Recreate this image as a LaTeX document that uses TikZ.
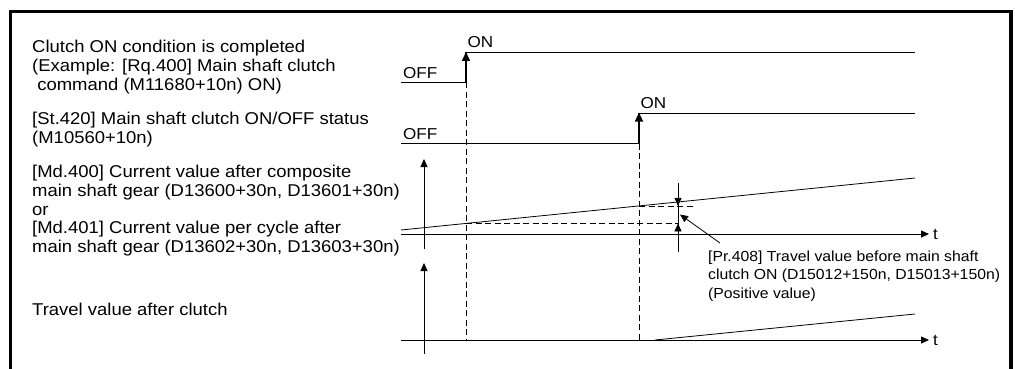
\documentclass[tikz,border=0pt]{standalone}
\usepackage{fontspec}
\setmainfont{Liberation Sans}[FakeStretch=1.08]
\usetikzlibrary{arrows.meta}
\begin{document}
\begin{tikzpicture}[x=1pt,y=-1pt,
  lbl/.style={anchor=base west, inner sep=0pt, font=\fontsize{17.1}{18.8}\selectfont},
  prtxt/.style={anchor=base west, inner sep=0pt, font=\fontsize{14.6}{18.7}\selectfont},
  lvl/.style={anchor=base west, inner sep=0pt, font=\fontsize{15.8}{18}\selectfont},
  sig/.style={line width=1.5pt},
  thin/.style={line width=0.8pt},
  dsh/.style={line width=0.8pt, dash pattern=on 6pt off 3.5pt},
  tip/.style={-{Triangle[length=9pt,width=8pt]}},
  tipb/.style={-{Triangle[length=8pt,width=7pt]}},
  frame/.style={line width=3.5pt},
]
\useasboundingbox (0,0) rectangle (1015,369);
% frame
\draw[frame] (10.5,375) -- (10.5,11.5) -- (1011,11.5) -- (1011,375);

% left texts
\node[lbl] (txtA) at (32,52.5) {\begin{tabular}[t]{@{}l@{}}Clutch ON condition is completed\\(Example: [Rq.400] Main shaft clutch\\\ command (M11680+10n) ON)\end{tabular}};
\node[lbl] (txtB) at (32,124.3) {\begin{tabular}[t]{@{}l@{}}[St.420] Main shaft clutch ON/OFF status\\(M10560+10n)\end{tabular}};
\node[lbl] (txtC) at (32,177.5) {\begin{tabular}[t]{@{}l@{}}[Md.400] Current value after composite\\main shaft gear (D13600+30n, D13601+30n)\\or\\[0pt][Md.401] Current value per cycle after\\main shaft gear (D13602+30n, D13603+30n)\end{tabular}};
\node[lbl] (txtD) at (32,315) {Travel value after clutch};

% signal 1
\coordinate (s1a) at (401,82.3);
\coordinate (s1b) at (466,82.3);
\coordinate (s1c) at (466,52.7);
\coordinate (s1d) at (915,52.7);
\draw[sig] (s1a) -- (s1b) -- (s1c) -- (s1d);
\draw[sig,tip] (466,72) -- (466,52);
\node[lvl] (off1) at (403,78) {OFF};
\node[lvl] (on1) at (467.5,47.7) {ON};

% signal 2
\coordinate (s2a) at (401,143.7);
\coordinate (s2b) at (639,143.7);
\coordinate (s2c) at (639,113.3);
\coordinate (s2d) at (915,113.3);
\draw[sig] (s2a) -- (s2b) -- (s2c) -- (s2d);
\draw[sig,tip] (639,133) -- (639,112.6);
\node[lvl] (off2) at (403,139) {OFF};
\node[lvl] (on2) at (640.5,108) {ON};

% dashed time markers
\draw[dsh] (s1b) -- (466,340);
\draw[dsh] (s2b) -- (639,340);

% middle graph
\draw[thin,tipb] (424,249) -- (424,159);
\draw[thin,tipb] (401,234) -- (929,234);
\node[lvl] (t1) at (933,239) {t};
\draw[thin] (401,230) -- (915,178);
\draw[dsh] (466,223.4) -- (678,223.4);
\draw[dsh] (639,205.9) -- (693,205.9);
\draw[thin] (678,183) -- (678,252);
\draw[thin,tipb] (678,192) -- (678,205.9);
\draw[thin,tipb] (678,244) -- (678,223.4);
\coordinate (lead) at (720,243);
\draw[thin,tipb] (lead) -- (680,214.5);
\node[prtxt] (pr) at (708,261) {\begin{tabular}[t]{@{}l@{}}[Pr.408] Travel value before main shaft\\clutch ON (D15012+150n, D15013+150n)\\(Positive value)\end{tabular}};

% bottom graph
\draw[thin,tipb] (424,354) -- (424,263);
\draw[thin,tipb] (401,340) -- (929,340);
\node[lvl] (t2) at (933,345) {t};
\draw[thin] (655,340) -- (915,314);
\end{tikzpicture}
\end{document}
